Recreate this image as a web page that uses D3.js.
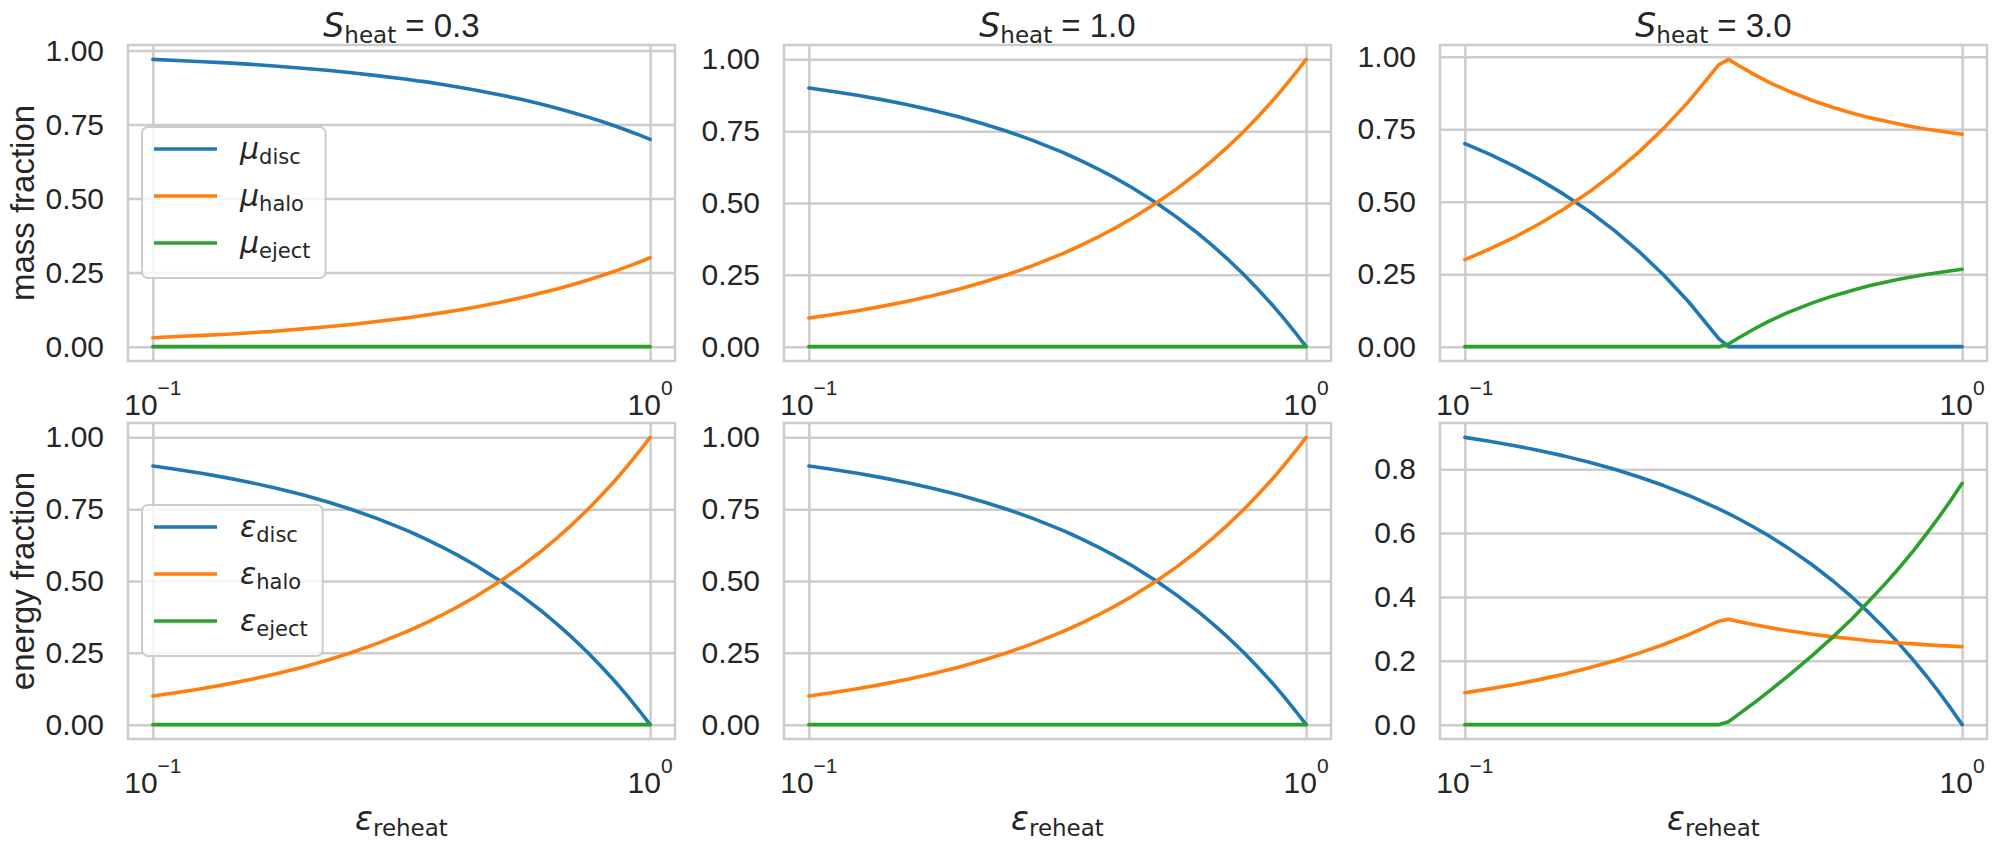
<!DOCTYPE html>
<html>
<head>
<meta charset="utf-8">
<script src="https://cdn.jsdelivr.net/npm/d3@7"></script>
<style>
  body { margin: 0; background: #fff; }
</style>
</head>
<body>
<svg id="chart" width="1997" height="847"></svg>
<script>
// x values (epsilon_reheat), shared by every panel
const epsReheat = [0.1, 0.112, 0.126, 0.141, 0.158, 0.178, 0.2, 0.224, 0.251, 0.282, 0.324, 0.339, 0.355, 0.38, 0.41, 0.447, 0.5, 0.55, 0.6, 0.65, 0.7, 0.75, 0.8, 0.85, 0.9, 0.95, 1.0];

const sHeatValues = ["0.3", "1.0", "3.0"];

// mass fractions
const massDisc03 = [0.970, 0.966, 0.962, 0.958, 0.953, 0.947, 0.940, 0.933, 0.925, 0.915, 0.903, 0.898, 0.894, 0.886, 0.877, 0.866, 0.850, 0.835, 0.820, 0.805, 0.790, 0.775, 0.760, 0.745, 0.730, 0.715, 0.700];
const massHalo03 = [0.030, 0.034, 0.038, 0.042, 0.047, 0.053, 0.060, 0.067, 0.075, 0.085, 0.097, 0.102, 0.107, 0.114, 0.123, 0.134, 0.150, 0.165, 0.180, 0.195, 0.210, 0.225, 0.240, 0.255, 0.270, 0.285, 0.300];
const massEject03 = [0, 0, 0, 0, 0, 0, 0, 0, 0, 0, 0, 0, 0, 0, 0, 0, 0, 0, 0, 0, 0, 0, 0, 0, 0, 0, 0];

const massDisc10 = [0.900, 0.888, 0.874, 0.859, 0.842, 0.822, 0.800, 0.776, 0.749, 0.718, 0.676, 0.661, 0.645, 0.620, 0.590, 0.553, 0.500, 0.450, 0.400, 0.350, 0.300, 0.250, 0.200, 0.150, 0.100, 0.050, 0.000];
const massHalo10 = [0.100, 0.112, 0.126, 0.141, 0.158, 0.178, 0.200, 0.224, 0.251, 0.282, 0.324, 0.339, 0.355, 0.380, 0.410, 0.447, 0.500, 0.550, 0.600, 0.650, 0.700, 0.750, 0.800, 0.850, 0.900, 0.950, 1.000];
const massEject10 = [0, 0, 0, 0, 0, 0, 0, 0, 0, 0, 0, 0, 0, 0, 0, 0, 0, 0, 0, 0, 0, 0, 0, 0, 0, 0, 0];

const massDisc30 = [0.700, 0.664, 0.622, 0.577, 0.526, 0.466, 0.400, 0.328, 0.247, 0.154, 0.028, 0, 0, 0, 0, 0, 0, 0, 0, 0, 0, 0, 0, 0, 0, 0, 0];
const massHalo30 = [0.300, 0.336, 0.378, 0.423, 0.474, 0.534, 0.600, 0.672, 0.753, 0.846, 0.972, 0.991, 0.970, 0.941, 0.911, 0.882, 0.849, 0.825, 0.806, 0.790, 0.778, 0.767, 0.758, 0.750, 0.744, 0.738, 0.733];
const massEject30 = [0, 0, 0, 0, 0, 0, 0, 0, 0, 0, 0, 0.009, 0.030, 0.059, 0.089, 0.118, 0.151, 0.175, 0.194, 0.210, 0.222, 0.233, 0.242, 0.250, 0.256, 0.262, 0.267];

// energy fractions
const energyDisc03 = [0.900, 0.888, 0.874, 0.859, 0.842, 0.822, 0.800, 0.776, 0.749, 0.718, 0.676, 0.661, 0.645, 0.620, 0.590, 0.553, 0.500, 0.450, 0.400, 0.350, 0.300, 0.250, 0.200, 0.150, 0.100, 0.050, 0.000];
const energyHalo03 = [0.100, 0.112, 0.126, 0.141, 0.158, 0.178, 0.200, 0.224, 0.251, 0.282, 0.324, 0.339, 0.355, 0.380, 0.410, 0.447, 0.500, 0.550, 0.600, 0.650, 0.700, 0.750, 0.800, 0.850, 0.900, 0.950, 1.000];
const energyEject03 = [0, 0, 0, 0, 0, 0, 0, 0, 0, 0, 0, 0, 0, 0, 0, 0, 0, 0, 0, 0, 0, 0, 0, 0, 0, 0, 0];

const energyDisc10 = [0.900, 0.888, 0.874, 0.859, 0.842, 0.822, 0.800, 0.776, 0.749, 0.718, 0.676, 0.661, 0.645, 0.620, 0.590, 0.553, 0.500, 0.450, 0.400, 0.350, 0.300, 0.250, 0.200, 0.150, 0.100, 0.050, 0.000];
const energyHalo10 = [0.100, 0.112, 0.126, 0.141, 0.158, 0.178, 0.200, 0.224, 0.251, 0.282, 0.324, 0.339, 0.355, 0.380, 0.410, 0.447, 0.500, 0.550, 0.600, 0.650, 0.700, 0.750, 0.800, 0.850, 0.900, 0.950, 1.000];
const energyEject10 = [0, 0, 0, 0, 0, 0, 0, 0, 0, 0, 0, 0, 0, 0, 0, 0, 0, 0, 0, 0, 0, 0, 0, 0, 0, 0, 0];

const energyDisc30 = [0.900, 0.888, 0.874, 0.859, 0.842, 0.822, 0.800, 0.776, 0.749, 0.718, 0.676, 0.661, 0.645, 0.620, 0.590, 0.553, 0.500, 0.450, 0.400, 0.350, 0.300, 0.250, 0.200, 0.150, 0.100, 0.050, 0.000];
const energyHalo30 = [0.100, 0.112, 0.126, 0.141, 0.158, 0.178, 0.200, 0.224, 0.251, 0.282, 0.324, 0.330, 0.323, 0.314, 0.304, 0.294, 0.283, 0.275, 0.269, 0.263, 0.259, 0.256, 0.253, 0.250, 0.248, 0.246, 0.244];
const energyEject30 = [0, 0, 0, 0, 0, 0, 0, 0, 0, 0, 0, 0.009, 0.032, 0.066, 0.106, 0.153, 0.217, 0.275, 0.331, 0.387, 0.441, 0.494, 0.547, 0.600, 0.652, 0.704, 0.756];

// tick labels
const xTickValues = [0.1, 1];
const xTickExponents = ["\u22121", "0"];
const yTicksQuarter = [0, 0.25, 0.5, 0.75, 1.0];
const yTicksFifth = [0, 0.2, 0.4, 0.6, 0.8];

const seriesNames = ["disc", "halo", "eject"];
const rowSymbols = ["\u03bc", "\u03b5"];
const rowLabels = ["mass fraction", "energy fraction"];

// layout
const panelLeft = [128, 784, 1440];
const panelTop = [45, 423];
const panelW = 547, panelH = 316;
const colors = ["#1f77b4", "#ff7f0e", "#2ca02c"];
const textColor = "#262626";
const gridColor = "#cccccc";
const sansFont = "'Liberation Sans', Arial, sans-serif";
const mathFont = "'DejaVu Sans', sans-serif";

const panels = [
  { row: 0, col: 0, series: [massDisc03, massHalo03, massEject03], ticks: yTicksQuarter, fmt: ".2f" },
  { row: 0, col: 1, series: [massDisc10, massHalo10, massEject10], ticks: yTicksQuarter, fmt: ".2f" },
  { row: 0, col: 2, series: [massDisc30, massHalo30, massEject30], ticks: yTicksQuarter, fmt: ".2f" },
  { row: 1, col: 0, series: [energyDisc03, energyHalo03, energyEject03], ticks: yTicksQuarter, fmt: ".2f" },
  { row: 1, col: 1, series: [energyDisc10, energyHalo10, energyEject10], ticks: yTicksQuarter, fmt: ".2f" },
  { row: 1, col: 2, series: [energyDisc30, energyHalo30, energyEject30], ticks: yTicksFifth, fmt: ".1f" }
];

const svg = d3.select("#chart");

const xScale = d3.scaleLog()
  .domain([Math.pow(10, -1.05), Math.pow(10, 0.05)])
  .range([0, panelW]);

panels.forEach((p) => {
  const g = svg.append("g")
    .attr("transform", `translate(${panelLeft[p.col]}, ${panelTop[p.row]})`);

  // y domain like matplotlib autoscale with 5% margins
  const lo = d3.min(p.series, (s) => d3.min(s));
  const hi = d3.max(p.series, (s) => d3.max(s));
  const pad = (hi - lo) * 0.05;
  const yScale = d3.scaleLinear().domain([lo - pad, hi + pad]).range([panelH, 0]);

  // horizontal grid + y tick labels
  const yAxis = g.append("g")
    .call(d3.axisLeft(yScale).tickValues(p.ticks).tickSize(-panelW).tickPadding(24).tickFormat(d3.format(p.fmt)));
  yAxis.select(".domain").remove();
  yAxis.selectAll("line").attr("stroke", gridColor).attr("stroke-width", 2.5);
  yAxis.selectAll("text")
    .attr("fill", textColor)
    .style("font-family", sansFont)
    .style("font-size", "30px");

  // vertical grid
  const xAxis = g.append("g")
    .attr("transform", `translate(0, ${panelH})`)
    .call(d3.axisBottom(xScale).tickValues(xTickValues).tickSize(-panelH).tickFormat(""));
  xAxis.select(".domain").remove();
  xAxis.selectAll("line").attr("stroke", gridColor).attr("stroke-width", 2.5);

  // x tick labels 10^-1, 10^0
  xTickValues.forEach((v, i) => {
    const t = g.append("text")
      .attr("x", xScale(v))
      .attr("y", panelH + 54)
      .attr("text-anchor", "middle")
      .attr("fill", textColor)
      .style("font-family", sansFont)
      .style("font-size", "30px");
    t.append("tspan").text("10");
    t.append("tspan").attr("dy", -20).style("font-size", "21px").text(xTickExponents[i]);
  });

  // data lines
  const line = d3.line()
    .x((d, i) => xScale(epsReheat[i]))
    .y((d) => yScale(d));

  p.series.forEach((s, k) => {
    g.append("path")
      .datum(s)
      .attr("d", line)
      .attr("fill", "none")
      .attr("stroke", colors[k])
      .attr("stroke-width", 3.6)
      .attr("stroke-linejoin", "round")
      .attr("stroke-linecap", "round");
  });

  // spines
  g.append("rect")
    .attr("width", panelW)
    .attr("height", panelH)
    .attr("fill", "none")
    .attr("stroke", gridColor)
    .attr("stroke-width", 2.5);

  // title over top row
  if (p.row === 0) {
    const t = g.append("text")
      .attr("x", panelW / 2)
      .attr("y", -8)
      .attr("text-anchor", "middle")
      .attr("fill", textColor)
      .style("white-space", "pre");
    t.append("tspan").style("font-family", mathFont).style("font-style", "italic").style("font-size", "33px").text("S");
    t.append("tspan").attr("dy", 5.5).style("font-family", mathFont).style("font-size", "23px").text("heat");
    t.append("tspan").attr("dy", -5.5).style("font-family", sansFont).style("font-size", "33px").text(" = " + sHeatValues[p.col]);
  }

  // x label on bottom row
  if (p.row === 1) {
    const t = g.append("text")
      .attr("x", panelW / 2)
      .attr("y", 830 - panelTop[1])
      .attr("text-anchor", "middle")
      .attr("fill", textColor);
    t.append("tspan").style("font-family", mathFont).style("font-style", "italic").style("font-size", "33px").text("\u03b5");
    t.append("tspan").attr("dy", 5.5).style("font-family", mathFont).style("font-size", "23px").text("reheat");
  }

  // y label and legend in first column
  if (p.col === 0) {
    g.append("text")
      .attr("transform", `translate(${34 - panelLeft[0]}, ${panelH / 2}) rotate(-90)`)
      .attr("text-anchor", "middle")
      .attr("fill", textColor)
      .style("font-family", sansFont)
      .style("font-size", "33px")
      .text(rowLabels[p.row]);

    const leg = g.append("g").attr("transform", `translate(14, ${panelH / 2 - 76})`);
    const box = leg.append("rect")
      .attr("height", 151)
      .attr("rx", 6)
      .attr("fill", "#fff")
      .attr("fill-opacity", 0.8)
      .attr("stroke", gridColor)
      .attr("stroke-width", 2);
    let maxW = 0;
    seriesNames.forEach((name, k) => {
      const cy = 22 + k * 47;
      leg.append("line")
        .attr("x1", 12).attr("x2", 75)
        .attr("y1", cy).attr("y2", cy)
        .attr("stroke", colors[k])
        .attr("stroke-width", 3.6);
      const t = leg.append("text")
        .attr("x", 98)
        .attr("y", cy + 10)
        .attr("fill", textColor);
      t.append("tspan").style("font-family", mathFont).style("font-style", "italic").style("font-size", "30px").text(rowSymbols[p.row]);
      t.append("tspan").attr("dy", 5).style("font-family", mathFont).style("font-size", "21px").text(name);
      maxW = Math.max(maxW, t.node().getComputedTextLength());
    });
    box.attr("width", 98 + maxW + 15);
  }
});
</script>
</body>
</html>
